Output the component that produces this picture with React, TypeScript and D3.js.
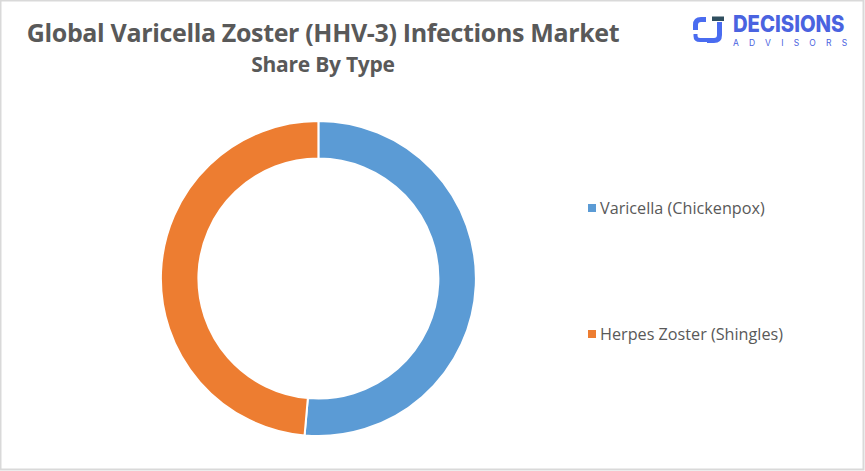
import React from "react";
import * as d3 from "d3";

const categories = ["Varicella (Chickenpox)", "Herpes Zoster (Shingles)"];
const shares = [51.4, 48.6];
const colors = ["#5b9bd5", "#ed7d31"];

const W = 865;
const H = 471;

export default function App() {
  const cx = 318.4;
  const cy = 278.5;
  const outerR = 157.5;
  const innerR = 120;
  const pie = d3.pie<number>().sort(null).value((d) => d);
  const arcs = pie(shares);
  const arcGen = d3.arc<d3.PieArcDatum<number>>().innerRadius(innerR).outerRadius(outerR);
  const legendY = d3.scalePoint<string>().domain(categories).range([208, 334]);

  return (
    <svg
      width={W}
      height={H}
      style={{ position: "absolute", left: 0, top: 0, background: "#fff" }}
      fontFamily="'Open Sans', sans-serif"
    >
      <rect x={0.5} y={0.5} width={W - 2} height={H - 2} fill="#fff" stroke="#d9d9d9" strokeWidth={2} />
      <text x={323} y={42} textAnchor="middle" fontSize={25} fontWeight={700} fill="#595959" letterSpacing={-0.35}>
        Global Varicella Zoster (HHV-3) Infections Market
      </text>
      <text x={323} y={72} textAnchor="middle" fontSize={21} fontWeight={700} fill="#595959" letterSpacing={-0.25}>
        Share By Type
      </text>

      <g transform={`translate(${cx},${cy})`}>
        {arcs.map((a, i) => (
          <path key={i} d={arcGen(a) || ""} fill={colors[i]} stroke="#fff" strokeWidth={2} />
        ))}
      </g>

      {categories.map((c, i) => (
        <g key={c} transform={`translate(588,${legendY(c)})`}>
          <rect x={0} y={-4} width={8} height={8} fill={colors[i]} />
          <text x={12} y={5.5} fontSize={16.2} fill="#595959">
            {c}
          </text>
        </g>
      ))}

      <g>
        <path d="M706,19.5 H701 Q695.5,19.5 695.5,25 V30" fill="none" stroke="#4a6cf0" strokeWidth={5} strokeLinecap="butt" />
        <path d="M695.5,34 V36 Q695.5,40 700,40 H708" fill="none" stroke="#4a6cf0" strokeWidth={4} />
        <path d="M719.5,22 V35 Q719.5,40.5 714,40.5 H707" fill="none" stroke="#4a6cf0" strokeWidth={5} />
        <rect x={712} y={16.5} width={12} height={4.5} fill="#2f4f5f" />
        <text
          transform="translate(733,32) scale(0.88,1)"
          fontSize={23}
          fontWeight={800}
          fill="#4a63e0"
          fontFamily="Inter, 'Open Sans', sans-serif"
        >
          DECISIONS
        </text>
        <text x={733} y={45.5} fontSize={8.5} fill="#4a63e0" fontFamily="Inter, 'Open Sans', sans-serif" letterSpacing={10.2}>
          ADVISORS
        </text>
      </g>
    </svg>
  );
}
